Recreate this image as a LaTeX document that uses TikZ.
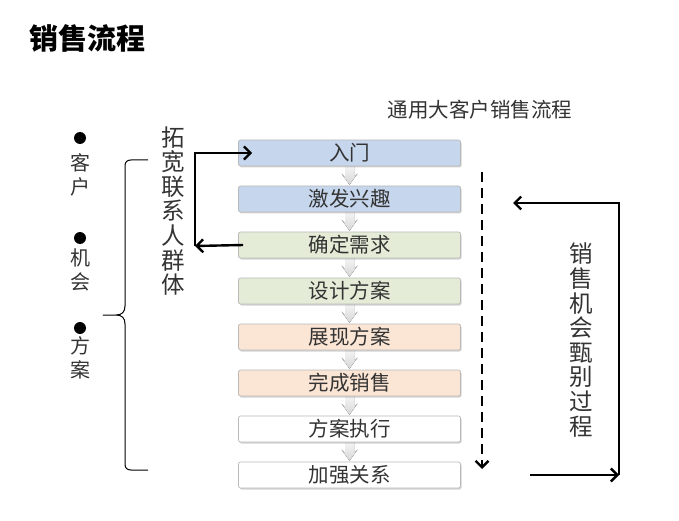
\documentclass[tikz,border=0pt]{standalone}
\usepackage{fontspec}
\newfontfamily\cjk{Noto Sans CJK SC}
\usetikzlibrary{arrows.meta,shadows,backgrounds}
\definecolor{bluebox}{HTML}{C6D6EC}
\definecolor{greenbox}{HTML}{E4ECD7}
\definecolor{orangebox}{HTML}{FBE5D4}
\definecolor{txt}{HTML}{333333}
\begin{document}
\begin{tikzpicture}[x=1pt,y=-1pt,
  stepbox/.style={draw=gray!55, line width=0.7pt, rounded corners=2pt,
    minimum width=222pt, minimum height=26pt, inner sep=0pt,
    font=\cjk\fontsize{20.5}{20.5}\selectfont, text=txt,
    drop shadow={shadow xshift=1pt, shadow yshift=-1.5pt, opacity=0.35}},
  grayarr/.style={top color=gray!6, bottom color=gray!32, draw=none},
  arr/.style={line width=2.4pt, -{Straight Barb[length=6.5pt,width=13pt]}},
  vtext/.style={align=center, text=txt, inner sep=0pt,
    font=\cjk\fontsize{23.5}{24.6}\selectfont},
  ltext/.style={align=center, text=txt, inner sep=0pt,
    font=\cjk\fontsize{20}{23.5}\selectfont},
  dot/.style={circle, fill=black, inner sep=0pt, minimum size=12pt}]
\useasboundingbox (0,0) rectangle (679,521);

% title
\node[anchor=west, inner sep=0pt, font=\cjk\bfseries\fontsize{29}{29}\selectfont] (title) at (29,38) {销售流程};
\node[inner sep=0pt, text=txt, font=\cjk\fontsize{20.5}{20.5}\selectfont] (sub) at (480,110) {通用大客户销售流程};

% process boxes
\node[stepbox, fill=bluebox]   (b1) at (349.5,153) {入门};
\node[stepbox, fill=bluebox]   (b2) at (349.5,199) {激发兴趣};
\node[stepbox, fill=greenbox]  (b3) at (349.5,245) {确定需求};
\node[stepbox, fill=greenbox]  (b4) at (349.5,291) {设计方案};
\node[stepbox, fill=orangebox] (b5) at (349.5,337) {展现方案};
\node[stepbox, fill=orangebox] (b6) at (349.5,383) {完成销售};
\node[stepbox, fill=white]     (b7) at (349.5,429) {方案执行};
\node[stepbox, fill=white]     (b8) at (349.5,475) {加强关系};

\begin{scope}[on background layer]
  \foreach \a/\b in {b1/b2,b2/b3,b3/b4,b4/b5,b5/b6,b6/b7,b7/b8}
    \fill[grayarr] ([xshift=-4.5pt,yshift=2pt]\a.south) -- ([xshift=4.5pt,yshift=2pt]\a.south)
      -- ([xshift=4.5pt,yshift=9pt]\b.north) -- ([xshift=8pt,yshift=12pt]\b.north)
      -- ([yshift=1pt]\b.north) -- ([xshift=-8pt,yshift=12pt]\b.north)
      -- ([xshift=-4.5pt,yshift=9pt]\b.north) -- cycle;
\end{scope}

% left loop arrow
\coordinate (lc) at (195,246);
\draw[arr] ([xshift=5pt]b3.west) -- (lc);
\draw[arr] (lc) |- ([xshift=14pt]b1.west);

% dashed arrow
\coordinate (ds) at (482,172);
\coordinate (de) at (482,469);
\draw[arr, dash pattern=on 10pt off 6pt] (ds) -- (de);

% right loop arrow
\coordinate (rs) at (530,475);
\coordinate (rc) at (619,475);
\coordinate (re) at (513,203);
\draw[arr] (rs) -- (rc);
\draw[arr] (rc) |- (re);

% vertical labels
\node[vtext] (lab1) at (173,211) {拓\\宽\\联\\系\\人\\群\\体};
\node[vtext] (lab2) at (581,340) {销\\售\\机\\会\\甄\\别\\过\\程};

% brace
\draw[line width=1pt, line join=round]
  (148,160) -- (131,160) .. controls (127,160) and (125,162) .. (125,166)
  -- (125,306) .. controls (125,312) and (122,315) .. (116,315) -- (103,315)
  -- (116,315) .. controls (122,315) and (125,318) .. (125,324)
  -- (125,464) .. controls (125,468) and (127,470) .. (131,470) -- (148,470);

% bullet list
\node[dot] (d1) at (80,138) {};
\node[dot] (d2) at (80,238) {};
\node[dot] (d3) at (80,328) {};
\node[ltext] (t1) at (80,175) {客\\户};
\node[ltext] (t2) at (80,270) {机\\会};
\node[ltext] (t3) at (80,358) {方\\案};
\end{tikzpicture}
\end{document}
